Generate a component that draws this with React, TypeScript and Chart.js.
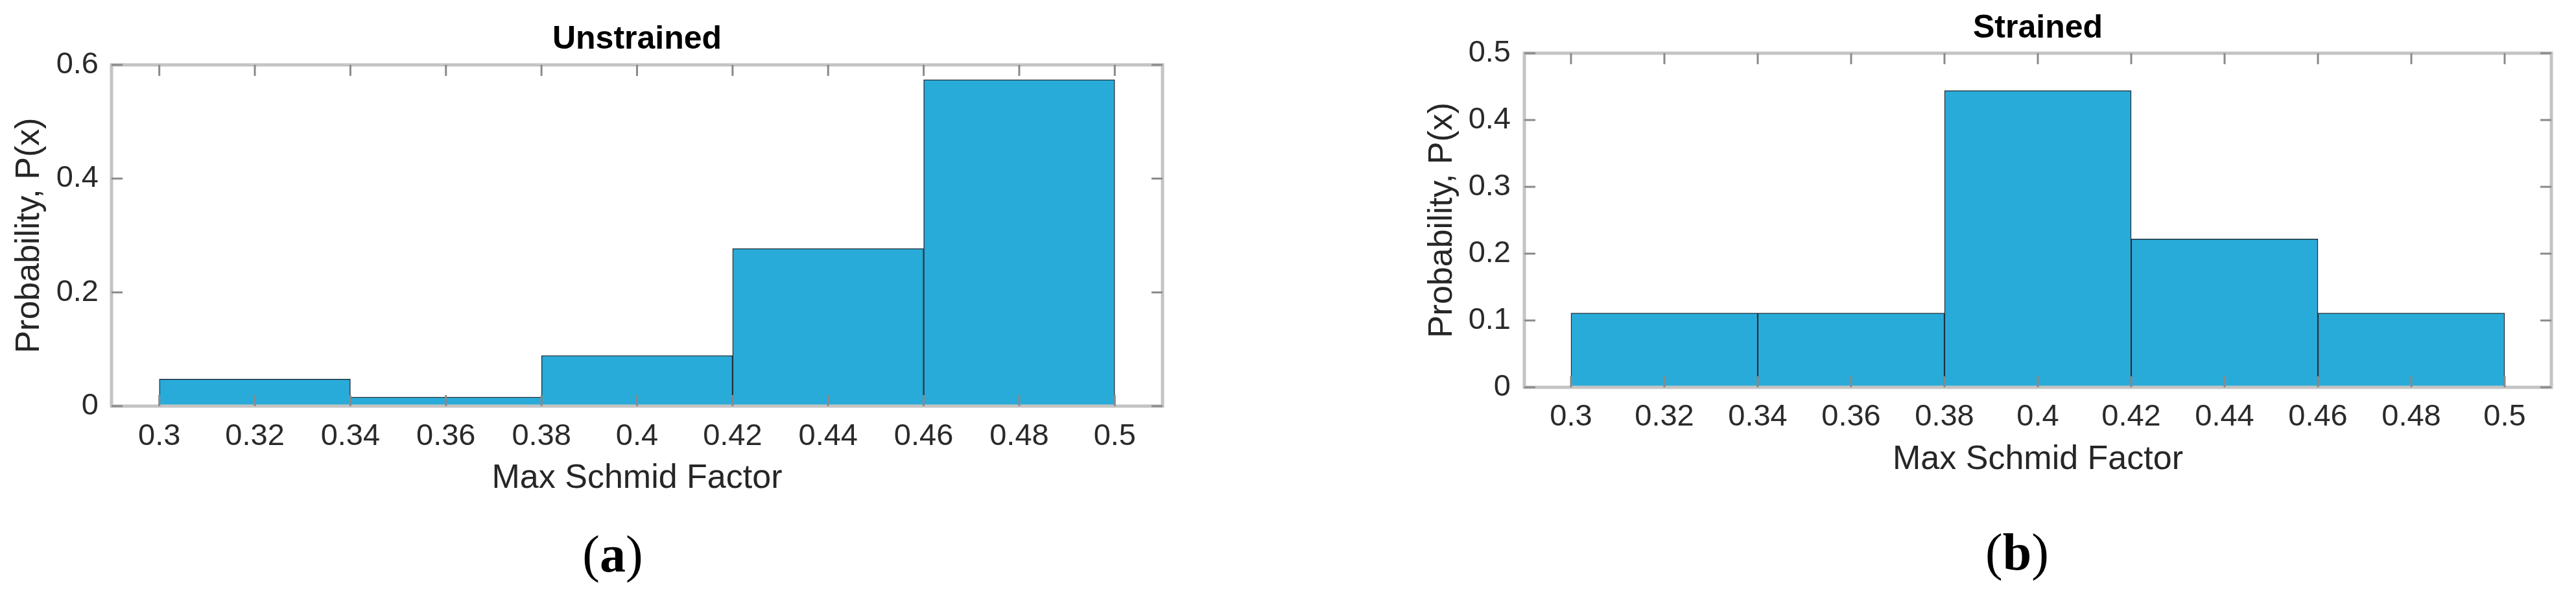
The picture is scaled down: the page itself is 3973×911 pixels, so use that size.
import React, { useEffect, useRef } from 'react';
import { Chart, registerables } from 'chart.js';

Chart.register(...registerables);

// ---- data ----
const binCenters = [0.32, 0.36, 0.4, 0.44, 0.48];
const unstrainedProb = [0.0476, 0.016, 0.089, 0.277, 0.574];
const strainedProb = [0.111, 0.111, 0.444, 0.222, 0.111];
const xTickValues = [0.3, 0.32, 0.34, 0.36, 0.38, 0.4, 0.42, 0.44, 0.46, 0.48, 0.5];
const xTickLabels = ['0.3', '0.32', '0.34', '0.36', '0.38', '0.4', '0.42', '0.44', '0.46', '0.48', '0.5'];
const unstrainedYTicks = [0, 0.2, 0.4, 0.6];
const unstrainedYLabels = ['0', '0.2', '0.4', '0.6'];
const strainedYTicks = [0, 0.1, 0.2, 0.3, 0.4, 0.5];
const strainedYLabels = ['0', '0.1', '0.2', '0.3', '0.4', '0.5'];

const FONT = '"Liberation Sans", Arial, Helvetica, sans-serif';
const BAR_FILL = '#29abd9';
const BAR_EDGE = '#22323c';
const TICK_COLOR = '#2a2a2a';

interface PanelLayout {
  canvasLeft: number;
  canvasWidth: number;
  canvasHeight: number;
  padRight: number;
  yAxisWidth: number;
  xAxisHeight: number;
  titlePadTop: number;
  titlePadBottom: number;
  xTickPad: number;
  xTitlePadBottom: number;
  yTickPad: number;
  yTitlePadTop: number;
}

const leftLayout: PanelLayout = {
  canvasLeft: 0,
  canvasWidth: 1900,
  canvasHeight: 800,
  padRight: 107,
  yAxisWidth: 172,
  xAxisHeight: 174,
  titlePadTop: 36,
  titlePadBottom: 14,
  xTickPad: 19,
  xTitlePadBottom: 31,
  yTickPad: 20,
  yTitlePadTop: 14,
};

const rightLayout: PanelLayout = {
  canvasLeft: 2050,
  canvasWidth: 1923,
  canvasHeight: 800,
  padRight: 38,
  yAxisWidth: 301,
  xAxisHeight: 203,
  titlePadTop: 19,
  titlePadBottom: 13,
  xTickPad: 18,
  xTitlePadBottom: 60,
  yTickPad: 21,
  yTitlePadTop: 143,
};

const framePlugin = {
  id: 'matlabFrame',
  afterDatasetsDraw(chart: any) {
    const { ctx, chartArea } = chart;
    const { left, right, top, bottom } = chartArea;
    const x = chart.scales.x;
    const y = chart.scales.y;
    const L = 17;
    ctx.save();
    ctx.strokeStyle = '#c4c4c4';
    ctx.lineWidth = 5;
    ctx.strokeRect(left, top, right - left, bottom - top);
    ctx.strokeStyle = '#8a8a8a';
    ctx.lineWidth = 3;
    ctx.beginPath();
    x.ticks.forEach((t: any) => {
      const px = x.getPixelForValue(t.value);
      ctx.moveTo(px, bottom);
      ctx.lineTo(px, bottom - L);
      ctx.moveTo(px, top);
      ctx.lineTo(px, top + L);
    });
    y.ticks.forEach((t: any) => {
      const py = y.getPixelForValue(t.value);
      ctx.moveTo(left, py);
      ctx.lineTo(left + L, py);
      ctx.moveTo(right, py);
      ctx.lineTo(right - L, py);
    });
    ctx.stroke();
    ctx.restore();
  },
};

function makeConfig(
  title: string,
  values: number[],
  yMax: number,
  yTicks: number[],
  yLabels: string[],
  L: PanelLayout
): any {
  return {
    type: 'bar',
    data: {
      datasets: [
        {
          data: binCenters.map((c, i) => ({ x: c, y: values[i] })),
          backgroundColor: BAR_FILL,
          borderColor: BAR_EDGE,
          borderWidth: 1.5,
          borderSkipped: 'bottom',
          barThickness: 'flex',
          barPercentage: 1,
          categoryPercentage: 1,
        },
      ],
    },
    options: {
      responsive: false,
      animation: false,
      devicePixelRatio: 1,
      layout: { padding: { left: 0, right: L.padRight, top: 0, bottom: 0 } },
      plugins: {
        legend: { display: false },
        tooltip: { enabled: false },
        title: {
          display: true,
          text: title,
          fullSize: false,
          color: '#000000',
          font: { family: FONT, size: 50, weight: 'bold', lineHeight: 1 },
          padding: { top: L.titlePadTop, bottom: L.titlePadBottom },
        },
      },
      scales: {
        x: {
          type: 'linear',
          min: 0.29,
          max: 0.51,
          offset: false,
          grid: { display: false, drawTicks: false },
          border: { display: false },
          afterBuildTicks: (s: any) => {
            s.ticks = xTickValues.map((v) => ({ value: v }));
          },
          afterFit: (s: any) => {
            s.height = L.xAxisHeight;
          },
          ticks: {
            autoSkip: false,
            maxRotation: 0,
            minRotation: 0,
            padding: L.xTickPad,
            color: TICK_COLOR,
            font: { family: FONT, size: 47, lineHeight: 1.2 },
            callback: (_v: any, i: number) => xTickLabels[i],
          },
          title: {
            display: true,
            text: 'Max Schmid Factor',
            color: '#262626',
            font: { family: FONT, size: 52, lineHeight: 1.2 },
            padding: { top: 0, bottom: L.xTitlePadBottom },
          },
        },
        y: {
          type: 'linear',
          min: 0,
          max: yMax,
          grid: { display: false, drawTicks: false },
          border: { display: false },
          afterBuildTicks: (s: any) => {
            s.ticks = yTicks.map((v) => ({ value: v }));
          },
          afterFit: (s: any) => {
            s.width = L.yAxisWidth;
          },
          ticks: {
            autoSkip: false,
            padding: L.yTickPad,
            color: TICK_COLOR,
            font: { family: FONT, size: 47, lineHeight: 1.2 },
            callback: (_v: any, i: number) => yLabels[i],
          },
          title: {
            display: true,
            text: 'Probability, P(x)',
            color: '#262626',
            font: { family: FONT, size: 52, lineHeight: 1.2 },
            padding: { top: L.yTitlePadTop, bottom: 0 },
          },
        },
      },
    },
    plugins: [framePlugin],
  };
}

export default function App() {
  const leftRef = useRef<HTMLCanvasElement | null>(null);
  const rightRef = useRef<HTMLCanvasElement | null>(null);

  useEffect(() => {
    const charts: Chart[] = [];
    if (leftRef.current) {
      charts.push(
        new Chart(
          leftRef.current,
          makeConfig('Unstrained', unstrainedProb, 0.6, unstrainedYTicks, unstrainedYLabels, leftLayout)
        )
      );
    }
    if (rightRef.current) {
      charts.push(
        new Chart(
          rightRef.current,
          makeConfig('Strained', strainedProb, 0.5, strainedYTicks, strainedYLabels, rightLayout)
        )
      );
    }
    return () => {
      charts.forEach((c) => c.destroy());
    };
  }, []);

  const labelStyle: React.CSSProperties = {
    position: 'absolute',
    transform: 'translate(-50%, -50%)',
    fontFamily: '"Liberation Serif", "Times New Roman", serif',
    fontSize: 80,
    lineHeight: 1,
    color: '#000',
    whiteSpace: 'nowrap',
  };

  return (
    <div
      style={{
        position: 'absolute',
        left: 0,
        top: 0,
        width: 3973,
        height: 911,
        background: '#ffffff',
        overflow: 'hidden',
      }}
    >
      <canvas
        ref={leftRef}
        width={leftLayout.canvasWidth}
        height={leftLayout.canvasHeight}
        style={{
          position: 'absolute',
          left: leftLayout.canvasLeft,
          top: 0,
          width: leftLayout.canvasWidth,
          height: leftLayout.canvasHeight,
        }}
      />
      <canvas
        ref={rightRef}
        width={rightLayout.canvasWidth}
        height={rightLayout.canvasHeight}
        style={{
          position: 'absolute',
          left: rightLayout.canvasLeft,
          top: 0,
          width: rightLayout.canvasWidth,
          height: rightLayout.canvasHeight,
        }}
      />
      <div style={{ ...labelStyle, left: 945, top: 854 }}>
        (<b>a</b>)
      </div>
      <div style={{ ...labelStyle, left: 3111, top: 851 }}>
        (<b>b</b>)
      </div>
    </div>
  );
}
